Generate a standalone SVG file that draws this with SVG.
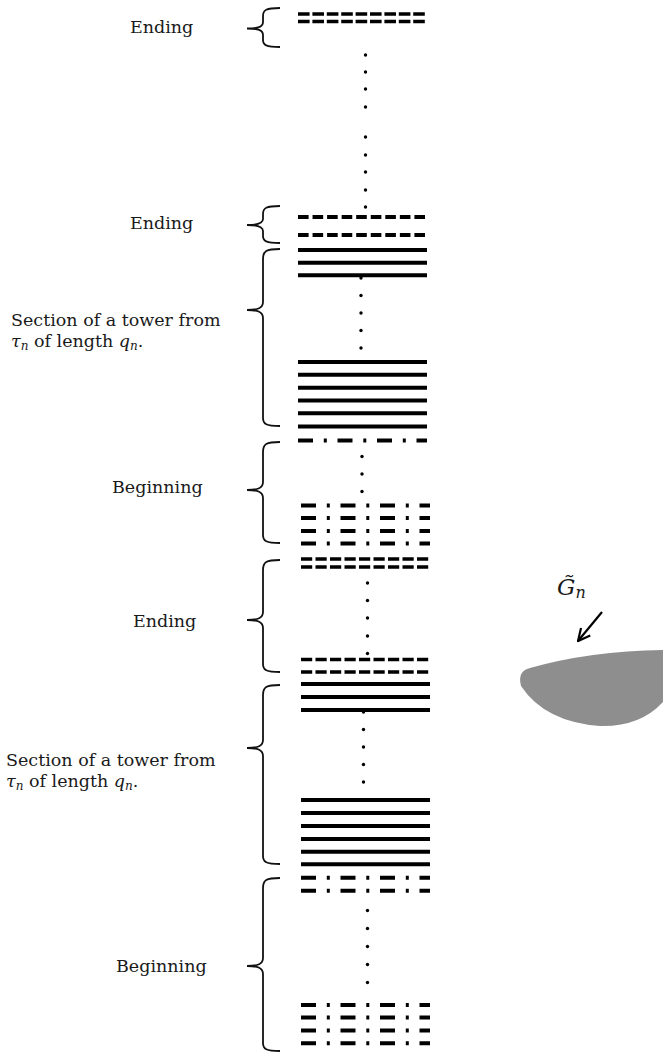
<svg xmlns="http://www.w3.org/2000/svg" width="663" height="1056" viewBox="0 0 663 1056">
<style>
.lbl{font-family:"DejaVu Serif","Liberation Serif",serif;font-size:17.5px;fill:#1a1a1a}
.it{font-style:italic}
.sub{font-size:12px;font-style:italic}
.brace{fill:none;stroke:#111;stroke-width:1.8}
.solid{stroke:#000;stroke-width:4}
.dash{stroke:#000;stroke-width:4;stroke-dasharray:10.6 3.95}
.tdash{stroke:#000;stroke-width:3.6;stroke-dasharray:11.6 2.8}
.edash{stroke:#000;stroke-width:3.6;stroke-dasharray:11.2 3.3}
.dd{stroke:#000;stroke-width:4;stroke-dasharray:15 10.8 3 10.7}
.dot{fill:#000}
</style>
<defs>
<marker id="ah" viewBox="0 0 14 14" refX="13" refY="7" markerWidth="14" markerHeight="14" markerUnits="userSpaceOnUse" orient="auto">
<path d="M1,1 L13,7 L1,13" fill="none" stroke="#000" stroke-width="2.2"/>
</marker>
</defs>
<rect width="663" height="1056" fill="#fff"/>

<g id="ending-top">
<path class="brace" d="M280,8 C266,8 263,10 263,16 L263,22 C263,27 258,28.5 247,28.5 M247,28.5 C258,28.5 263,30 263,35 L263,40 C263,45 266,47 280,47"/>
<text class="lbl" x="130" y="33">Ending</text>
<line class="tdash" x1="298" y1="14" x2="425" y2="14"/>
<line class="tdash" x1="298" y1="21.5" x2="425" y2="21.5"/>
</g>

<g id="ending-1">
<path class="brace" d="M280,206 C266,206 263,208 263,214 L263,219 C263,223 258,225 247,225 M247,225 C258,225 263,227 263,231 L263,236 C263,241 266,243 280,243"/>
<text class="lbl" x="130" y="229">Ending</text>
<line class="dash" x1="298" y1="217" x2="425" y2="217"/>
<line class="dash" x1="298" y1="235" x2="425" y2="235"/>
</g>

<g id="section-1">
<path class="brace" d="M280,249 C266,249 263,251 263,259 L263,302 C263,308 258,310 247,310 M247,310 C258,310 263,312 263,318 L263,418 C263,424 266,426 280,426"/>
<text class="lbl" x="11" y="326">Section of a tower from</text>
<text class="lbl" x="11" y="347"><tspan class="it">τ</tspan><tspan class="sub" dy="3">n</tspan><tspan dy="-3"> of length </tspan><tspan class="it">q</tspan><tspan class="sub" dy="3">n</tspan><tspan dy="-3">.</tspan></text>
<line class="solid" x1="298" y1="250" x2="427" y2="250"/>
<line class="solid" x1="298" y1="262.7" x2="427" y2="262.7"/>
<line class="solid" x1="298" y1="275.3" x2="427" y2="275.3"/>
<line class="solid" x1="298" y1="362" x2="427" y2="362"/>
<line class="solid" x1="298" y1="374.8" x2="427" y2="374.8"/>
<line class="solid" x1="298" y1="387.7" x2="427" y2="387.7"/>
<line class="solid" x1="298" y1="400.5" x2="427" y2="400.5"/>
<line class="solid" x1="298" y1="413.3" x2="427" y2="413.3"/>
<line class="solid" x1="298" y1="426.5" x2="427" y2="426.5"/>
</g>

<g id="beginning-1">
<path class="brace" d="M280,442 C266,442 263,444 263,452 L263,482 C263,488 258,490 247,490 M247,490 C258,490 263,492 263,498 L263,535 C263,541 266,543 280,543"/>
<text class="lbl" x="112" y="493">Beginning</text>
<line class="dd" x1="298" y1="440.5" x2="427" y2="440.5"/>
<line class="dd" x1="301" y1="505.5" x2="430" y2="505.5"/>
<line class="dd" x1="301" y1="518" x2="430" y2="518"/>
<line class="dd" x1="301" y1="531" x2="430" y2="531"/>
<line class="dd" x1="301" y1="543.5" x2="430" y2="543.5"/>
</g>

<g id="ending-2">
<path class="brace" d="M280,560 C266,560 263,562 263,570 L263,612 C263,618 258,620 247,620 M247,620 C258,620 263,622 263,628 L263,664 C263,670 266,672 280,672"/>
<text class="lbl" x="133" y="627">Ending</text>
<line class="edash" x1="301" y1="559" x2="429" y2="559"/>
<line class="edash" x1="301" y1="567" x2="429" y2="567"/>
<line class="edash" x1="301" y1="659.5" x2="429" y2="659.5"/>
<line class="edash" x1="301" y1="672" x2="429" y2="672"/>
</g>

<g id="section-2">
<path class="brace" d="M280,685 C266,685 263,687 263,695 L263,740 C263,746 258,748 247,748 M247,748 C258,748 263,750 263,756 L263,856 C263,862 266,864 280,864"/>
<text class="lbl" x="6" y="766">Section of a tower from</text>
<text class="lbl" x="6" y="787"><tspan class="it">τ</tspan><tspan class="sub" dy="3">n</tspan><tspan dy="-3"> of length </tspan><tspan class="it">q</tspan><tspan class="sub" dy="3">n</tspan><tspan dy="-3">.</tspan></text>
<line class="solid" x1="301" y1="684" x2="430" y2="684"/>
<line class="solid" x1="301" y1="697" x2="430" y2="697"/>
<line class="solid" x1="301" y1="710" x2="430" y2="710"/>
<line class="solid" x1="301" y1="800" x2="430" y2="800"/>
<line class="solid" x1="301" y1="813" x2="430" y2="813"/>
<line class="solid" x1="301" y1="826" x2="430" y2="826"/>
<line class="solid" x1="301" y1="839" x2="430" y2="839"/>
<line class="solid" x1="301" y1="851.7" x2="430" y2="851.7"/>
<line class="solid" x1="301" y1="864.3" x2="430" y2="864.3"/>
</g>

<g id="beginning-2">
<path class="brace" d="M280,878 C266,878 263,880 263,888 L263,958 C263,964 258,966 247,966 M247,966 C258,966 263,968 263,974 L263,1043 C263,1049 266,1051 280,1051"/>
<text class="lbl" x="116" y="972">Beginning</text>
<line class="dd" x1="301" y1="877.7" x2="430" y2="877.7"/>
<line class="dd" x1="301" y1="890.7" x2="430" y2="890.7"/>
<line class="dd" x1="301" y1="1005" x2="430" y2="1005"/>
<line class="dd" x1="301" y1="1017.5" x2="430" y2="1017.5"/>
<line class="dd" x1="301" y1="1030.5" x2="430" y2="1030.5"/>
<line class="dd" x1="301" y1="1043.3" x2="430" y2="1043.3"/>
</g>

<g id="dots">
<circle class="dot" cx="365.5" cy="55" r="1.7"/>
<circle class="dot" cx="365.5" cy="72" r="1.7"/>
<circle class="dot" cx="365.5" cy="89" r="1.7"/>
<circle class="dot" cx="365.5" cy="107" r="1.7"/>
<circle class="dot" cx="365.5" cy="137" r="1.7"/>
<circle class="dot" cx="365.5" cy="155" r="1.7"/>
<circle class="dot" cx="365.5" cy="172" r="1.7"/>
<circle class="dot" cx="365.5" cy="190" r="1.7"/>
<circle class="dot" cx="365.5" cy="207" r="1.7"/>
<circle class="dot" cx="361" cy="278" r="1.7"/>
<circle class="dot" cx="361" cy="295.5" r="1.7"/>
<circle class="dot" cx="361" cy="313" r="1.7"/>
<circle class="dot" cx="361" cy="330.5" r="1.7"/>
<circle class="dot" cx="361" cy="348" r="1.7"/>
<circle class="dot" cx="362" cy="456.5" r="1.7"/>
<circle class="dot" cx="362" cy="474" r="1.7"/>
<circle class="dot" cx="362" cy="491.5" r="1.7"/>
<circle class="dot" cx="367.5" cy="583" r="1.7"/>
<circle class="dot" cx="367.5" cy="600.5" r="1.7"/>
<circle class="dot" cx="367.5" cy="618" r="1.7"/>
<circle class="dot" cx="367.5" cy="636" r="1.7"/>
<circle class="dot" cx="367.5" cy="653.5" r="1.7"/>
<circle class="dot" cx="363.5" cy="712" r="1.7"/>
<circle class="dot" cx="363.5" cy="729.5" r="1.7"/>
<circle class="dot" cx="363.5" cy="747" r="1.7"/>
<circle class="dot" cx="363.5" cy="764.5" r="1.7"/>
<circle class="dot" cx="363.5" cy="782" r="1.7"/>
<circle class="dot" cx="367.5" cy="910.5" r="1.7"/>
<circle class="dot" cx="367.5" cy="928.5" r="1.7"/>
<circle class="dot" cx="367.5" cy="946.5" r="1.7"/>
<circle class="dot" cx="367.5" cy="964.5" r="1.7"/>
<circle class="dot" cx="367.5" cy="982.5" r="1.7"/>
</g>

<g id="g-tilde-n">
<path d="M530,668 Q590,651 663,650 L663,702 Q640,727 600,726 Q545,722 521,686 Q517,671 530,668 Z" fill="#8e8e8e"/>
<text class="lbl" x="557" y="595" style="font-size:23px"><tspan class="it">G̃</tspan><tspan class="it" style="font-size:16px" dy="3">n</tspan></text>
</g>

<g id="connectors">
<line x1="602" y1="612" x2="578" y2="641" stroke="#000" stroke-width="2.2" marker-end="url(#ah)"/>
</g>
</svg>
